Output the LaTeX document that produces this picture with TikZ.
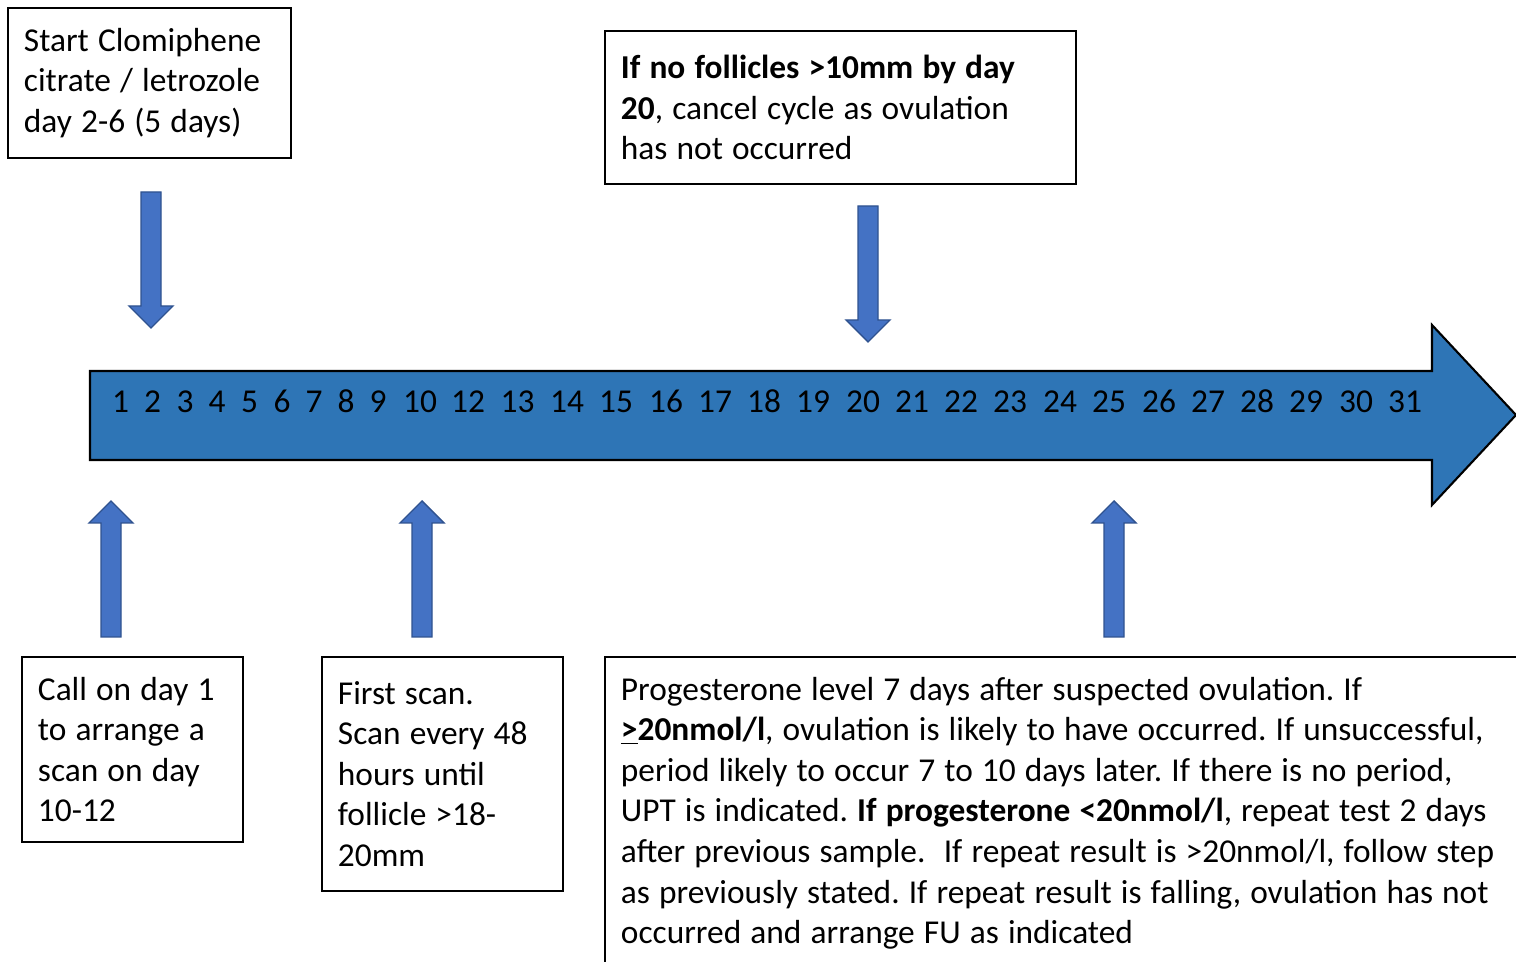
\documentclass[tikz,border=0pt]{standalone}
\usepackage{fontspec}
\setmainfont{Carlito}
\usetikzlibrary{positioning}
\definecolor{lineblue}{HTML}{2E75B6}
\definecolor{arrblue}{HTML}{4472C4}
\definecolor{arredge}{HTML}{2F528F}
\newcommand\boxfont{\fontsize{19}{23.1}\selectfont\frenchspacing}
\newcommand\tightspace{\spaceskip=5.2pt plus 1pt\relax}

\tikzset{
  infobox/.style={draw,line width=1.1pt,align=left,anchor=north west,inner xsep=0.32cm,inner ysep=0.4cm,
    font=\boxfont,execute at begin node=\tightspace},
  daynum/.style={anchor=base,font=\fontsize{19}{23}\selectfont},
  blockarr/.style={fill=arrblue,draw=arredge,line width=0.8pt},
  downarr/.pic={\draw[blockarr] (-10,0) -- (10,0) -- (10,114) -- (22,114) -- (0,136) -- (-22,114) -- (-10,114) -- cycle;},
}

\begin{document}
\begin{tikzpicture}[x=0.02cm,y=-0.02cm]
  \useasboundingbox (0,0) rectangle (1516,962);
  \clip (0,0) rectangle (1516,962);
  % timeline
  \draw[fill=lineblue,line width=1.2pt] (90,371) -- (1432,371) -- (1432,325) -- (1516,415) -- (1432,505) -- (1432,460) -- (90,460) -- cycle;
  \foreach \d/\x in {1/120.5,2/152.5,3/185,4/217,5/249.5,6/282,7/314,8/346,9/378,10/420,12/468,13/517.5,14/567,15/616,16/666,17/715,18/764,19/813,20/863,21/912,22/961,23/1010,24/1060,25/1109,26/1159,27/1208,28/1257,29/1306,30/1356,31/1405}
    \node[daynum] (d\d) at (\x,413) {\d};

  % boxes
  \node[infobox,text width=5.02cm] (start) at (7,7) {Start Clomiphene\\citrate / letrozole\\day 2-6 (5 days)};
  \node[infobox,text width=8.78cm,minimum height=3.06cm] (nofoll) at (604,30) {\textbf{If no follicles >10mm by day}\\\textbf{20}, cancel cycle as ovulation\\has not occurred};
  \node[infobox,text width=3.78cm] (call) at (21,656) {Call on day 1\\to arrange a\\scan on day\\10-12};
  \node[infobox,text width=4.18cm,minimum height=4.68cm] (scan) at (321,656) {First scan.\\Scan every 48\\hours until\\follicle >18-\\20mm};
  \node[infobox,text width=18.6cm] (proges) at (604,656) {Progesterone level 7 days after suspected ovulation. If\\
    \textbf{\underline{>}20nmol/l}, ovulation is likely to have occurred. If unsuccessful,\\
    period likely to occur 7 to 10 days later. If there is no period,\\
    UPT is indicated. \textbf{If progesterone <20nmol/l}, repeat test 2 days\\
    after previous sample.\ \ If repeat result is >20nmol/l, follow step\\
    as previously stated. If repeat result is falling, ovulation has not\\
    occurred and arrange FU as indicated};

  % block arrows
  \pic (startarr) at (151,192) {downarr};
  \pic (nofollarr) at (868,206) {downarr};
  \pic[rotate=180] (callarr) at (111,637) {downarr};
  \pic[rotate=180] (scanarr) at (422,637) {downarr};
  \pic[rotate=180] (progesarr) at (1114,637) {downarr};
\end{tikzpicture}
\end{document}
